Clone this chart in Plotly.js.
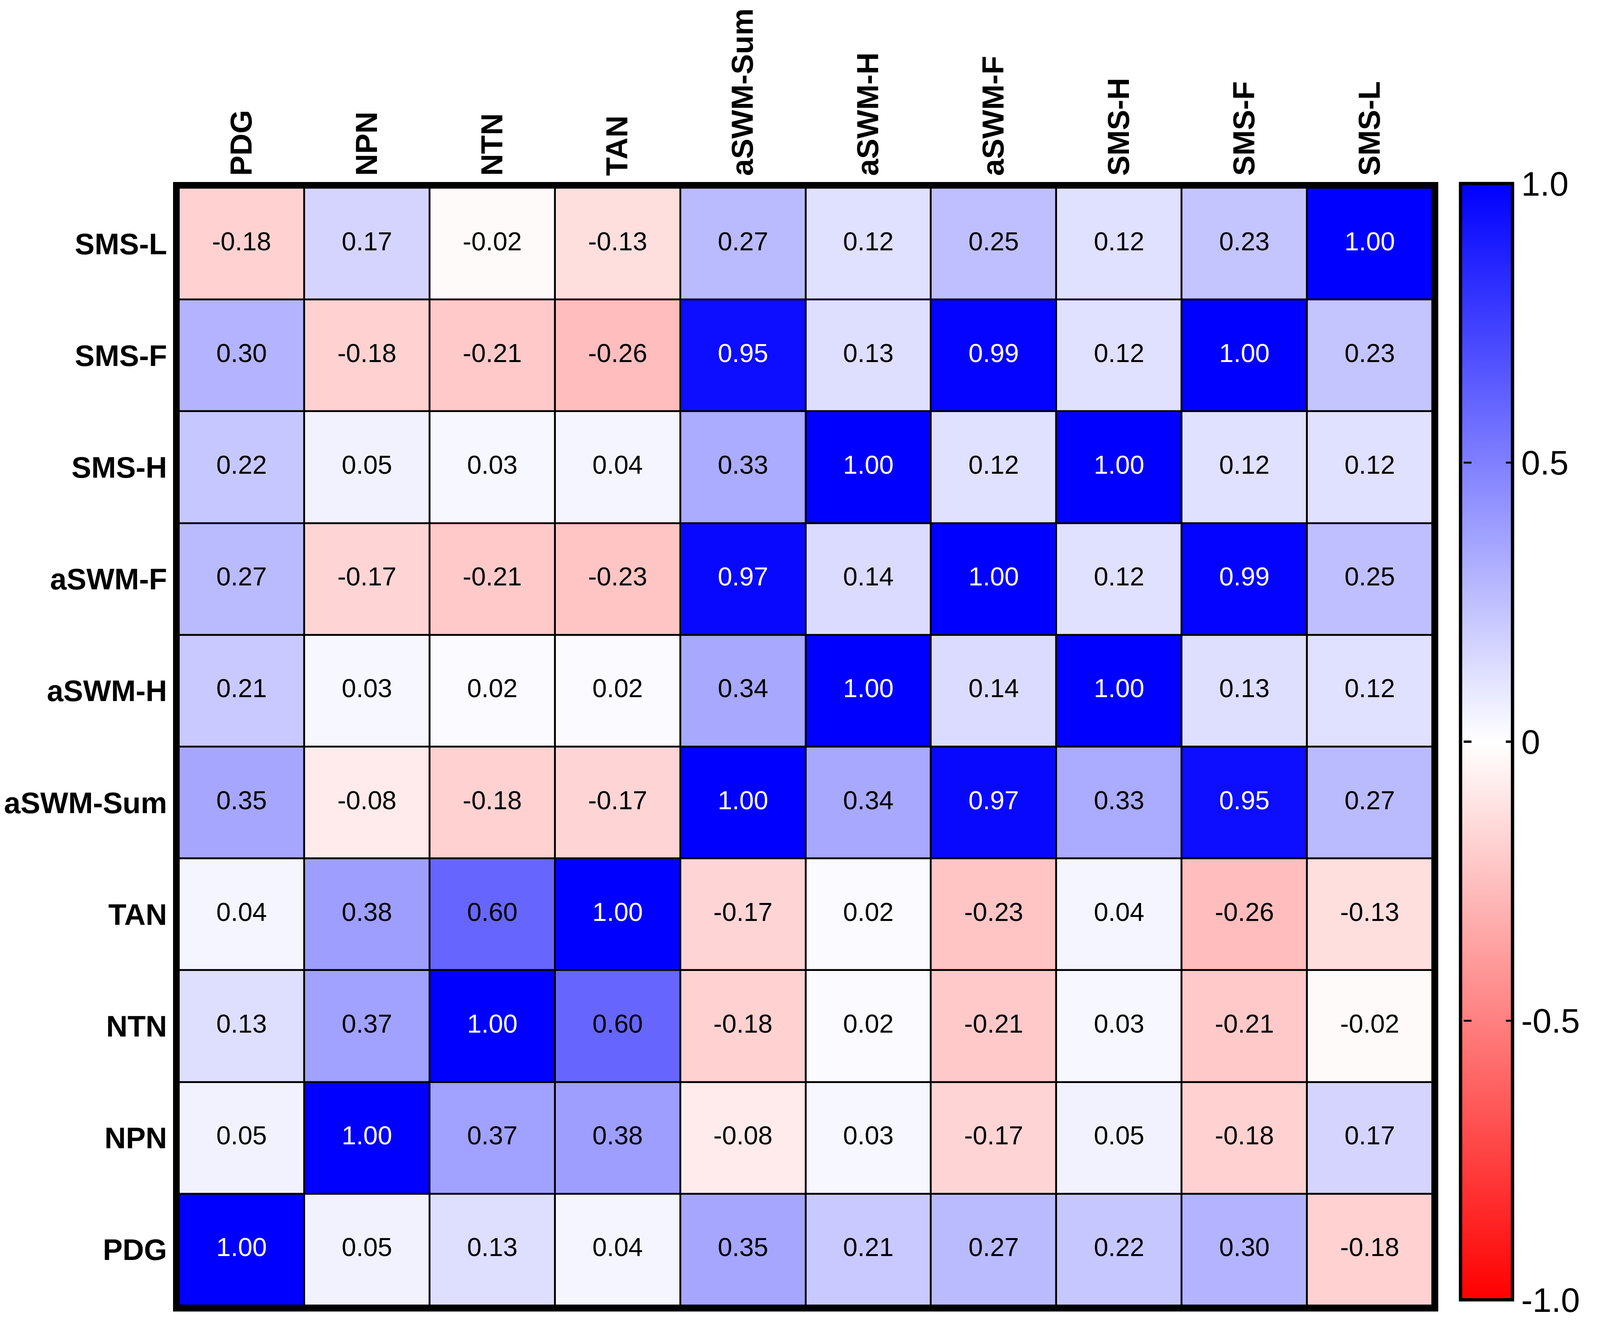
<!DOCTYPE html>
<html>
<head>
<meta charset="utf-8">
<script src="https://cdn.plot.ly/plotly-3.0.1.min.js"></script>
<style>html,body{margin:0;padding:0;background:#fff;overflow:hidden;}#chart{position:absolute;left:0;top:0;}</style>
</head>
<body>
<div id="chart"></div>
<script>
// ---- data ----
const xLabels = ["PDG","NPN","NTN","TAN","aSWM-Sum","aSWM-H","aSWM-F","SMS-H","SMS-F","SMS-L"];
const yLabels = ["PDG","NPN","NTN","TAN","aSWM-Sum","aSWM-H","aSWM-F","SMS-H","SMS-F","SMS-L"];
// rows follow yLabels (bottom to top)
const rowPDG     = [1.00, 0.05, 0.13, 0.04, 0.35, 0.21, 0.27, 0.22, 0.30, -0.18];
const rowNPN     = [0.05, 1.00, 0.37, 0.38, -0.08, 0.03, -0.17, 0.05, -0.18, 0.17];
const rowNTN     = [0.13, 0.37, 1.00, 0.60, -0.18, 0.02, -0.21, 0.03, -0.21, -0.02];
const rowTAN     = [0.04, 0.38, 0.60, 1.00, -0.17, 0.02, -0.23, 0.04, -0.26, -0.13];
const rowaSWMSum = [0.35, -0.08, -0.18, -0.17, 1.00, 0.34, 0.97, 0.33, 0.95, 0.27];
const rowaSWMH   = [0.21, 0.03, 0.02, 0.02, 0.34, 1.00, 0.14, 1.00, 0.13, 0.12];
const rowaSWMF   = [0.27, -0.17, -0.21, -0.23, 0.97, 0.14, 1.00, 0.12, 0.99, 0.25];
const rowSMSH    = [0.22, 0.05, 0.03, 0.04, 0.33, 1.00, 0.12, 1.00, 0.12, 0.12];
const rowSMSF    = [0.30, -0.18, -0.21, -0.26, 0.95, 0.13, 0.99, 0.12, 1.00, 0.23];
const rowSMSL    = [-0.18, 0.17, -0.02, -0.13, 0.27, 0.12, 0.25, 0.12, 0.23, 1.00];
const cbTickVals = [-1, -0.5, 0, 0.5, 1];
const cbTickText = ["-1.0", "-0.5", "0", "0.5", "1.0"];
const cbInnerTickVals = [-0.5, 0, 0.5];

const z = [rowPDG,rowNPN,rowNTN,rowTAN,rowaSWMSum,rowaSWMH,rowaSWMF,rowSMSH,rowSMSF,rowSMSL];

// ---- layout geometry (reference frame 4317 x 3390, scaled to the viewport) ----
const RW = 4317, RH = 3390;
const W = document.documentElement.clientWidth || window.innerWidth || RW;
const H = document.documentElement.clientHeight || window.innerHeight || RH;
const sx = W / RW, sy = H / RH, sf = Math.min(sx, sy);
document.getElementById("chart").style.width = W + "px";
document.getElementById("chart").style.height = H + "px";

const plotL = 483 * sx, plotR = 3865 * sx, plotT = 481 * sy, plotB = 3343 * sy;
const plotW = plotR - plotL, plotH = plotB - plotT;
const cbTop = 470 * sy, cbBot = 3328 * sy;
const cbLeft = 3941 * sx, cbThick = 140 * sx, cbOutline = 9 * sf;
const cbMid = (cbTop + cbBot) / 2;
const cbLen = cbBot - cbTop;

const font = "Liberation Sans, Arial, sans-serif";

const tx = [], ty = [], tt = [], tc = [];
for (let i = 0; i < yLabels.length; i++) {
  for (let j = 0; j < xLabels.length; j++) {
    tx.push(xLabels[j]); ty.push(yLabels[i]);
    tt.push(z[i][j].toFixed(2));
    tc.push(Math.abs(z[i][j]) > 0.9 ? "#ffffff" : "#000000");
  }
}

const heat = {
  type: "heatmap",
  x: xLabels, y: yLabels, z: z,
  zmin: -1, zmax: 1,
  colorscale: [[0, "rgb(255,0,0)"], [0.5, "rgb(255,255,255)"], [1, "rgb(0,0,255)"]],
  xgap: 5 * sf, ygap: 5 * sf,
  hoverinfo: "skip",
  colorbar: {
    xref: "paper", yref: "paper",
    x: (cbLeft - plotL) / plotW, xanchor: "left", xpad: 0,
    y: (plotB - cbMid) / plotH, yanchor: "middle", ypad: 0,
    len: cbLen, lenmode: "pixels",
    thickness: cbThick, thicknessmode: "pixels",
    outlinewidth: cbOutline, outlinecolor: "#000",
    tickmode: "array", tickvals: cbTickVals, ticktext: cbTickText,
    ticks: "inside", ticklen: 22 * sf, tickwidth: 6 * sf, tickcolor: "#000",
    ticklabeloverflow: "allow",
    tickfont: {family: font, size: 92 * sf, color: "#000"}
  }
};

// transparent twin whose colour bar only supplies the tick marks on the bar's left edge
const tickTwin = {
  type: "heatmap",
  x: xLabels, y: yLabels, z: z,
  zmin: -1, zmax: 1,
  colorscale: [[0, "rgba(0,0,0,0)"], [1, "rgba(0,0,0,0)"]],
  hoverinfo: "skip",
  colorbar: {
    xref: "paper", yref: "paper",
    x: (cbLeft + cbOutline - 2 - plotL) / plotW, xanchor: "left", xpad: 0,
    y: (plotB - cbMid) / plotH, yanchor: "middle", ypad: 0,
    len: cbLen, lenmode: "pixels",
    thickness: 1, thicknessmode: "pixels",
    outlinewidth: 0,
    tickmode: "array", tickvals: cbInnerTickVals,
    showticklabels: false,
    ticks: "outside", ticklen: 22 * sf, tickwidth: 6 * sf, tickcolor: "#000"
  }
};

const labels = {
  type: "scatter", mode: "text",
  x: tx, y: ty, text: tt,
  textfont: {family: font, size: 70 * sf, color: tc},
  hoverinfo: "skip", showlegend: false
};

const axisCommon = {
  type: "category",
  showline: true, linewidth: 16 * sf, linecolor: "#000", mirror: true,
  ticks: "", showgrid: false, zeroline: false,
  ticklabelstandoff: 0
};

const layout = {
  width: W, height: H,
  paper_bgcolor: "#ffffff", plot_bgcolor: "#000000",
  margin: {l: plotL, r: W - plotR, t: plotT, b: H - plotB, pad: 0, autoexpand: false},
  showlegend: false,
  xaxis: Object.assign({}, axisCommon, {
    side: "top", tickangle: -90,
    tickfont: {family: font, size: 80 * (sx + sy) / 2, color: "#000", weight: "bold"},
    categoryorder: "array", categoryarray: xLabels
  }),
  yaxis: Object.assign({}, axisCommon, {
    tickfont: {family: font, size: 80 * sf, color: "#000", weight: "bold"},
    categoryorder: "array", categoryarray: yLabels
  })
};

Plotly.newPlot("chart", [heat, tickTwin, labels], layout, {displayModeBar: false, staticPlot: true});
</script>
</body>
</html>
